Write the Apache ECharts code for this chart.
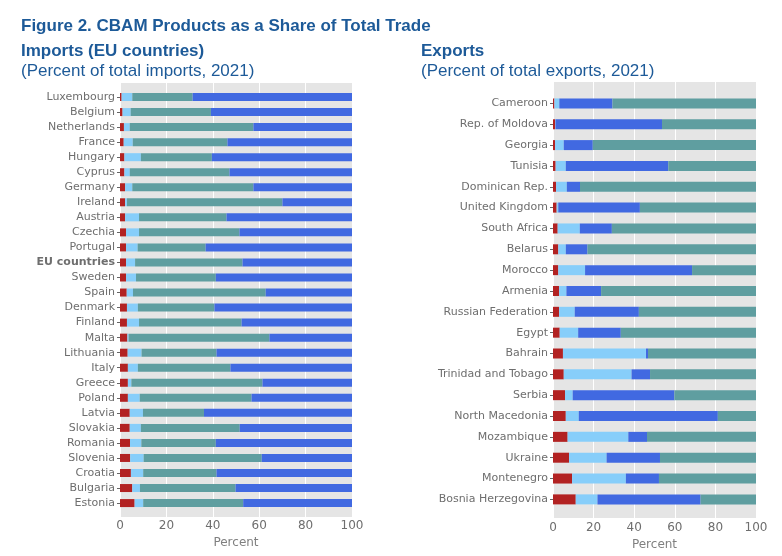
<!DOCTYPE html>
<html>
  <head>
    <meta charset="utf-8" />
    <title>CBAM</title>
    <style>
      html,
      body {
        margin: 0;
        padding: 0;
        background: #fff;
      }
      #chart-container {
        width: 782px;
        height: 556px;
      }
    </style>
    <script src="https://cdn.jsdelivr.net/npm/echarts@6/dist/echarts.min.js"></script>
  </head>
  <body>
    <div id="chart-container"></div>

    <script>
      // 进口（欧盟国家）
      var importCountries = ["Luxembourg", "Belgium", "Netherlands", "France", "Hungary", "Cyprus", "Germany", "Ireland", "Austria", "Czechia", "Portugal", "EU countries", "Sweden", "Spain", "Denmark", "Finland", "Malta", "Lithuania", "Italy", "Greece", "Poland", "Latvia", "Slovakia", "Romania", "Slovenia", "Croatia", "Bulgaria", "Estonia"];
      var impRed = [0.7, 1.1, 1.7, 1.6, 1.9, 1.9, 2.2, 2.2, 2.2, 2.6, 2.6, 2.6, 2.6, 2.9, 3.0, 3.0, 3.2, 3.3, 3.4, 3.4, 3.4, 4.2, 4.2, 4.3, 4.4, 4.7, 5.3, 6.3];
      var impLight = [4.6, 3.5, 2.5, 3.9, 7.1, 2.3, 3.1, 0.8, 6.0, 5.6, 5.0, 3.9, 4.3, 2.7, 4.7, 5.2, 0.5, 6.0, 4.3, 1.5, 5.1, 5.7, 4.8, 4.9, 5.8, 5.3, 3.3, 3.7];
      var impTeal = [26.0, 34.6, 53.3, 40.8, 30.6, 43.0, 52.2, 67.0, 37.7, 43.3, 29.3, 46.3, 34.4, 57.2, 33.0, 44.2, 60.7, 32.3, 39.9, 56.5, 48.2, 26.3, 42.6, 32.1, 50.9, 31.6, 41.2, 43.1];
      var impBlue = [68.7, 60.8, 42.5, 53.7, 60.4, 52.8, 42.5, 30.0, 54.1, 48.5, 63.1, 47.2, 58.7, 37.2, 59.3, 47.6, 35.6, 58.4, 52.4, 38.6, 43.3, 63.8, 48.4, 58.7, 38.9, 58.4, 50.2, 46.9];

      // 出口
      var exportCountries = ["Cameroon", "Rep. of Moldova", "Georgia", "Tunisia", "Dominican Rep.", "United Kingdom", "South Africa", "Belarus", "Morocco", "Armenia", "Russian Federation", "Egypt", "Bahrain", "Trinidad and Tobago", "Serbia", "North Macedonia", "Mozambique", "Ukraine", "Montenegro", "Bosnia Herzegovina"];
      var expRed = [0.7, 1.0, 1.0, 1.3, 1.5, 1.8, 2.3, 2.6, 2.6, 3.0, 3.0, 3.3, 4.9, 5.3, 5.9, 6.3, 7.2, 7.9, 9.4, 11.2];
      var expLight = [2.4, 0.2, 4.3, 5.0, 5.3, 0.8, 10.9, 3.7, 13.2, 3.6, 7.7, 9.1, 40.9, 33.4, 3.8, 6.4, 29.9, 18.5, 26.5, 10.7];
      var expBlue = [26.2, 52.5, 14.3, 50.5, 6.5, 40.2, 15.8, 10.7, 52.7, 17.1, 31.6, 21.0, 1.0, 9.1, 50.1, 68.5, 9.2, 26.3, 16.3, 50.8];
      var expTeal = [70.7, 46.3, 80.4, 43.2, 86.7, 57.2, 71.0, 83.0, 31.5, 76.3, 57.7, 66.6, 53.2, 52.2, 40.2, 18.8, 53.7, 47.3, 47.8, 27.3];

      var RED = "#b22222";
      var LIGHT = "#87cefa";
      var TEAL = "#5f9ea0";
      var BLUE = "#4169e1";
      var TITLE_COLOR = "#1d5a98";
      var LABEL_COLOR = "#6e6e6e";

      var myChart = echarts.init(document.getElementById("chart-container"), null, {
        renderer: "canvas",
      });

      // 背景网格上的 x 轴（刻度、白色网格线、轴名）
      function bgXAxis(gridIndex, labelMargin, nameGap) {
        return {
          gridIndex: gridIndex,
          type: "value",
          min: 0,
          max: 100,
          interval: 20,
          name: "Percent",
          nameLocation: "middle",
          nameGap: nameGap,
          nameTextStyle: { color: "#808080", fontSize: 12, fontFamily: "DejaVu Sans" },
          axisLine: { show: false },
          axisTick: { show: false },
          axisLabel: { color: LABEL_COLOR, fontSize: 12, fontFamily: "DejaVu Sans", margin: labelMargin },
          splitLine: { lineStyle: { color: "#ffffff", width: 1 } },
        };
      }
      function barXAxis(gridIndex) {
        return { gridIndex: gridIndex, type: "value", min: 0, max: 100, show: false };
      }
      function barYAxis(gridIndex, cats) {
        return {
          gridIndex: gridIndex,
          type: "category",
          data: cats,
          inverse: true,
          axisLine: { show: false },
          axisTick: { show: true, alignWithLabel: true, length: 3, lineStyle: { color: "#666" } },
          axisLabel: {
            color: LABEL_COLOR,
            fontSize: 11,
            fontFamily: "DejaVu Sans",
            margin: 5,
            formatter: function (v) {
              return v === "EU countries" ? "{b|" + v + "}" : v;
            },
            rich: { b: { fontWeight: "bold", color: LABEL_COLOR, fontSize: 11, fontFamily: "DejaVu Sans" } },
          },
          splitLine: { show: false },
        };
      }
      function bar(name, data, color, xi, yi, width, stack) {
        return {
          name: name,
          type: "bar",
          stack: stack,
          xAxisIndex: xi,
          yAxisIndex: yi,
          data: data,
          barWidth: width,
          itemStyle: { color: color },
          silent: true,
        };
      }

      var titleFont = "Liberation Sans";
      function head(text, left, top, bold) {
        return {
          text: text,
          left: left,
          top: top,
          padding: 0,
          textStyle: { color: TITLE_COLOR, fontSize: 17, fontWeight: bold ? "bold" : "normal", fontFamily: titleFont },
        };
      }

      var option = {
        animation: false,
        title: [
          head("Figure 2. CBAM Products as a Share of Total Trade", 21, 18, true),
          head("Imports (EU countries)", 21, 43, true),
          head("(Percent of total imports, 2021)", 21, 63, false),
          head("Exports", 421, 43, true),
          head("(Percent of total exports, 2021)", 421, 63, false),
        ],
        // 0,1 背景网格；2,3 柱子网格
        grid: [
          { left: 120, top: 83, width: 232, height: 434, show: true, backgroundColor: "#e5e5e5", borderWidth: 0 },
          { left: 553, top: 82, width: 203, height: 437, show: true, backgroundColor: "#e5e5e5", borderWidth: 0 },
          { left: 120, top: 89.5, width: 232, height: 421.1 },
          { left: 553, top: 93, width: 203, height: 416.8 },
        ],
        xAxis: [bgXAxis(0, 3, 15), bgXAxis(1, 4, 17), barXAxis(2), barXAxis(3)],
        yAxis: [
          { gridIndex: 0, type: "value", show: false },
          { gridIndex: 1, type: "value", show: false },
          barYAxis(2, importCountries),
          barYAxis(3, exportCountries),
        ],
        series: [
          bar("r1", impRed, RED, 2, 2, 8, "imp"),
          bar("l1", impLight, LIGHT, 2, 2, 8, "imp"),
          bar("t1", impTeal, TEAL, 2, 2, 8, "imp"),
          bar("b1", impBlue, BLUE, 2, 2, 8, "imp"),
          bar("r2", expRed, RED, 3, 3, 10, "exp"),
          bar("l2", expLight, LIGHT, 3, 3, 10, "exp"),
          bar("b2", expBlue, BLUE, 3, 3, 10, "exp"),
          bar("t2", expTeal, TEAL, 3, 3, 10, "exp"),
        ],
      };
      myChart.setOption(option);
    </script>
  </body>
</html>
